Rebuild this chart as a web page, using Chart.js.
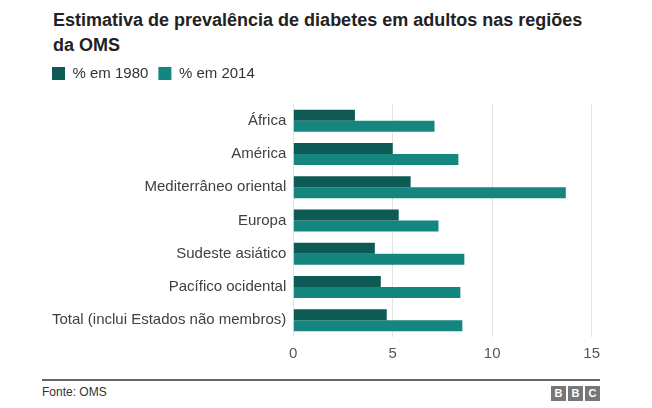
<!DOCTYPE html>
<html>
<head>
<meta charset="utf-8">
<script src="https://cdn.jsdelivr.net/npm/chart.js@4"></script>
<style>
  body { margin: 0; background: #fff; font-family: "Liberation Sans", Arial, sans-serif; }
  #wrap { position: relative; width: 652px; height: 408px; }
  h1 { position: absolute; left: 53px; top: 8px; margin: 0; width: 555px;
       font-size: 18px; line-height: 25px; font-weight: bold; color: #222; }
  #box { position: absolute; left: 42px; top: 56px; width: 566px; height: 315px; }
  #foot { position: absolute; left: 42px; top: 379px; width: 558px; border-top: 2px solid #666; }
  #src { position: absolute; left: 0; top: 4px; font-size: 12px; color: #333; }
  #bbc { position: absolute; right: 0; top: 5px; display: flex; gap: 2px; }
  #bbc span { width: 15px; height: 15px; background: #777; color: #fff; font-size: 11px;
              font-weight: bold; text-align: center; line-height: 15px; }
</style>
</head>
<body>
<div id="wrap">
  <h1>Estimativa de prevalência de diabetes em adultos nas regiões da OMS</h1>
  <div id="box"><canvas id="chart"></canvas></div>
  <div id="foot">
    <div id="src">Fonte: OMS</div>
    <div id="bbc"><span>B</span><span>B</span><span>C</span></div>
  </div>
</div>
<script>
  // Data
  const regions = ['África', 'América', 'Mediterrâneo oriental', 'Europa',
                   'Sudeste asiático', 'Pacífico ocidental', 'Total (inclui Estados não membros)'];
  const pct1980 = [3.1, 5.0, 5.9, 5.3, 4.1, 4.4, 4.7];
  const pct2014 = [7.1, 8.3, 13.7, 7.3, 8.6, 8.4, 8.5];
  const xTicks = [0, 5, 10, 15];

  // extra room under the legend
  const legendGap = {
    id: 'legendGap',
    beforeInit(chart) {
      const fit = chart.legend.fit;
      chart.legend.fit = function () {
        fit.bind(chart.legend)();
        this.height += 13;
      };
    }
  };

  const ctx = document.getElementById('chart').getContext('2d');
  new Chart(ctx, {
    type: 'bar',
    data: {
      labels: regions,
      datasets: [
        {
          label: '% em 1980',
          data: pct1980,
          backgroundColor: '#0e5b56',
          categoryPercentage: 0.66,
          barPercentage: 1.0
        },
        {
          label: '% em 2014',
          data: pct2014,
          backgroundColor: '#15857f',
          categoryPercentage: 0.66,
          barPercentage: 1.0
        }
      ]
    },
    options: {
      indexAxis: 'y',
      responsive: true,
      maintainAspectRatio: false,
      animation: false,
      layout: { padding: { right: 10 } },
      scales: {
        x: {
          min: 0,
          max: 15,
          afterBuildTicks: axis => { axis.ticks = xTicks.map(v => ({ value: v })); },
          grid: { color: '#e3e3e3', drawTicks: false },
          border: { display: false },
          ticks: { color: '#555', font: { size: 15, family: 'Liberation Sans' }, padding: 8 }
        },
        y: {
          afterFit: axis => { axis.width += 3; },
          grid: { display: false, drawTicks: false, tickLength: 0 },
          border: { display: false },
          ticks: { color: '#404040', font: { size: 15, family: 'Liberation Sans' }, padding: 7 }
        }
      },
      plugins: {
        legend: {
          position: 'top',
          align: 'start',
          labels: {
            boxWidth: 13,
            boxHeight: 13,
            padding: 10,
            color: '#333',
            font: { size: 15, family: 'Liberation Sans' }
          }
        },
        tooltip: { enabled: false }
      }
    },
    plugins: [legendGap]
  });
</script>
</body>
</html>
